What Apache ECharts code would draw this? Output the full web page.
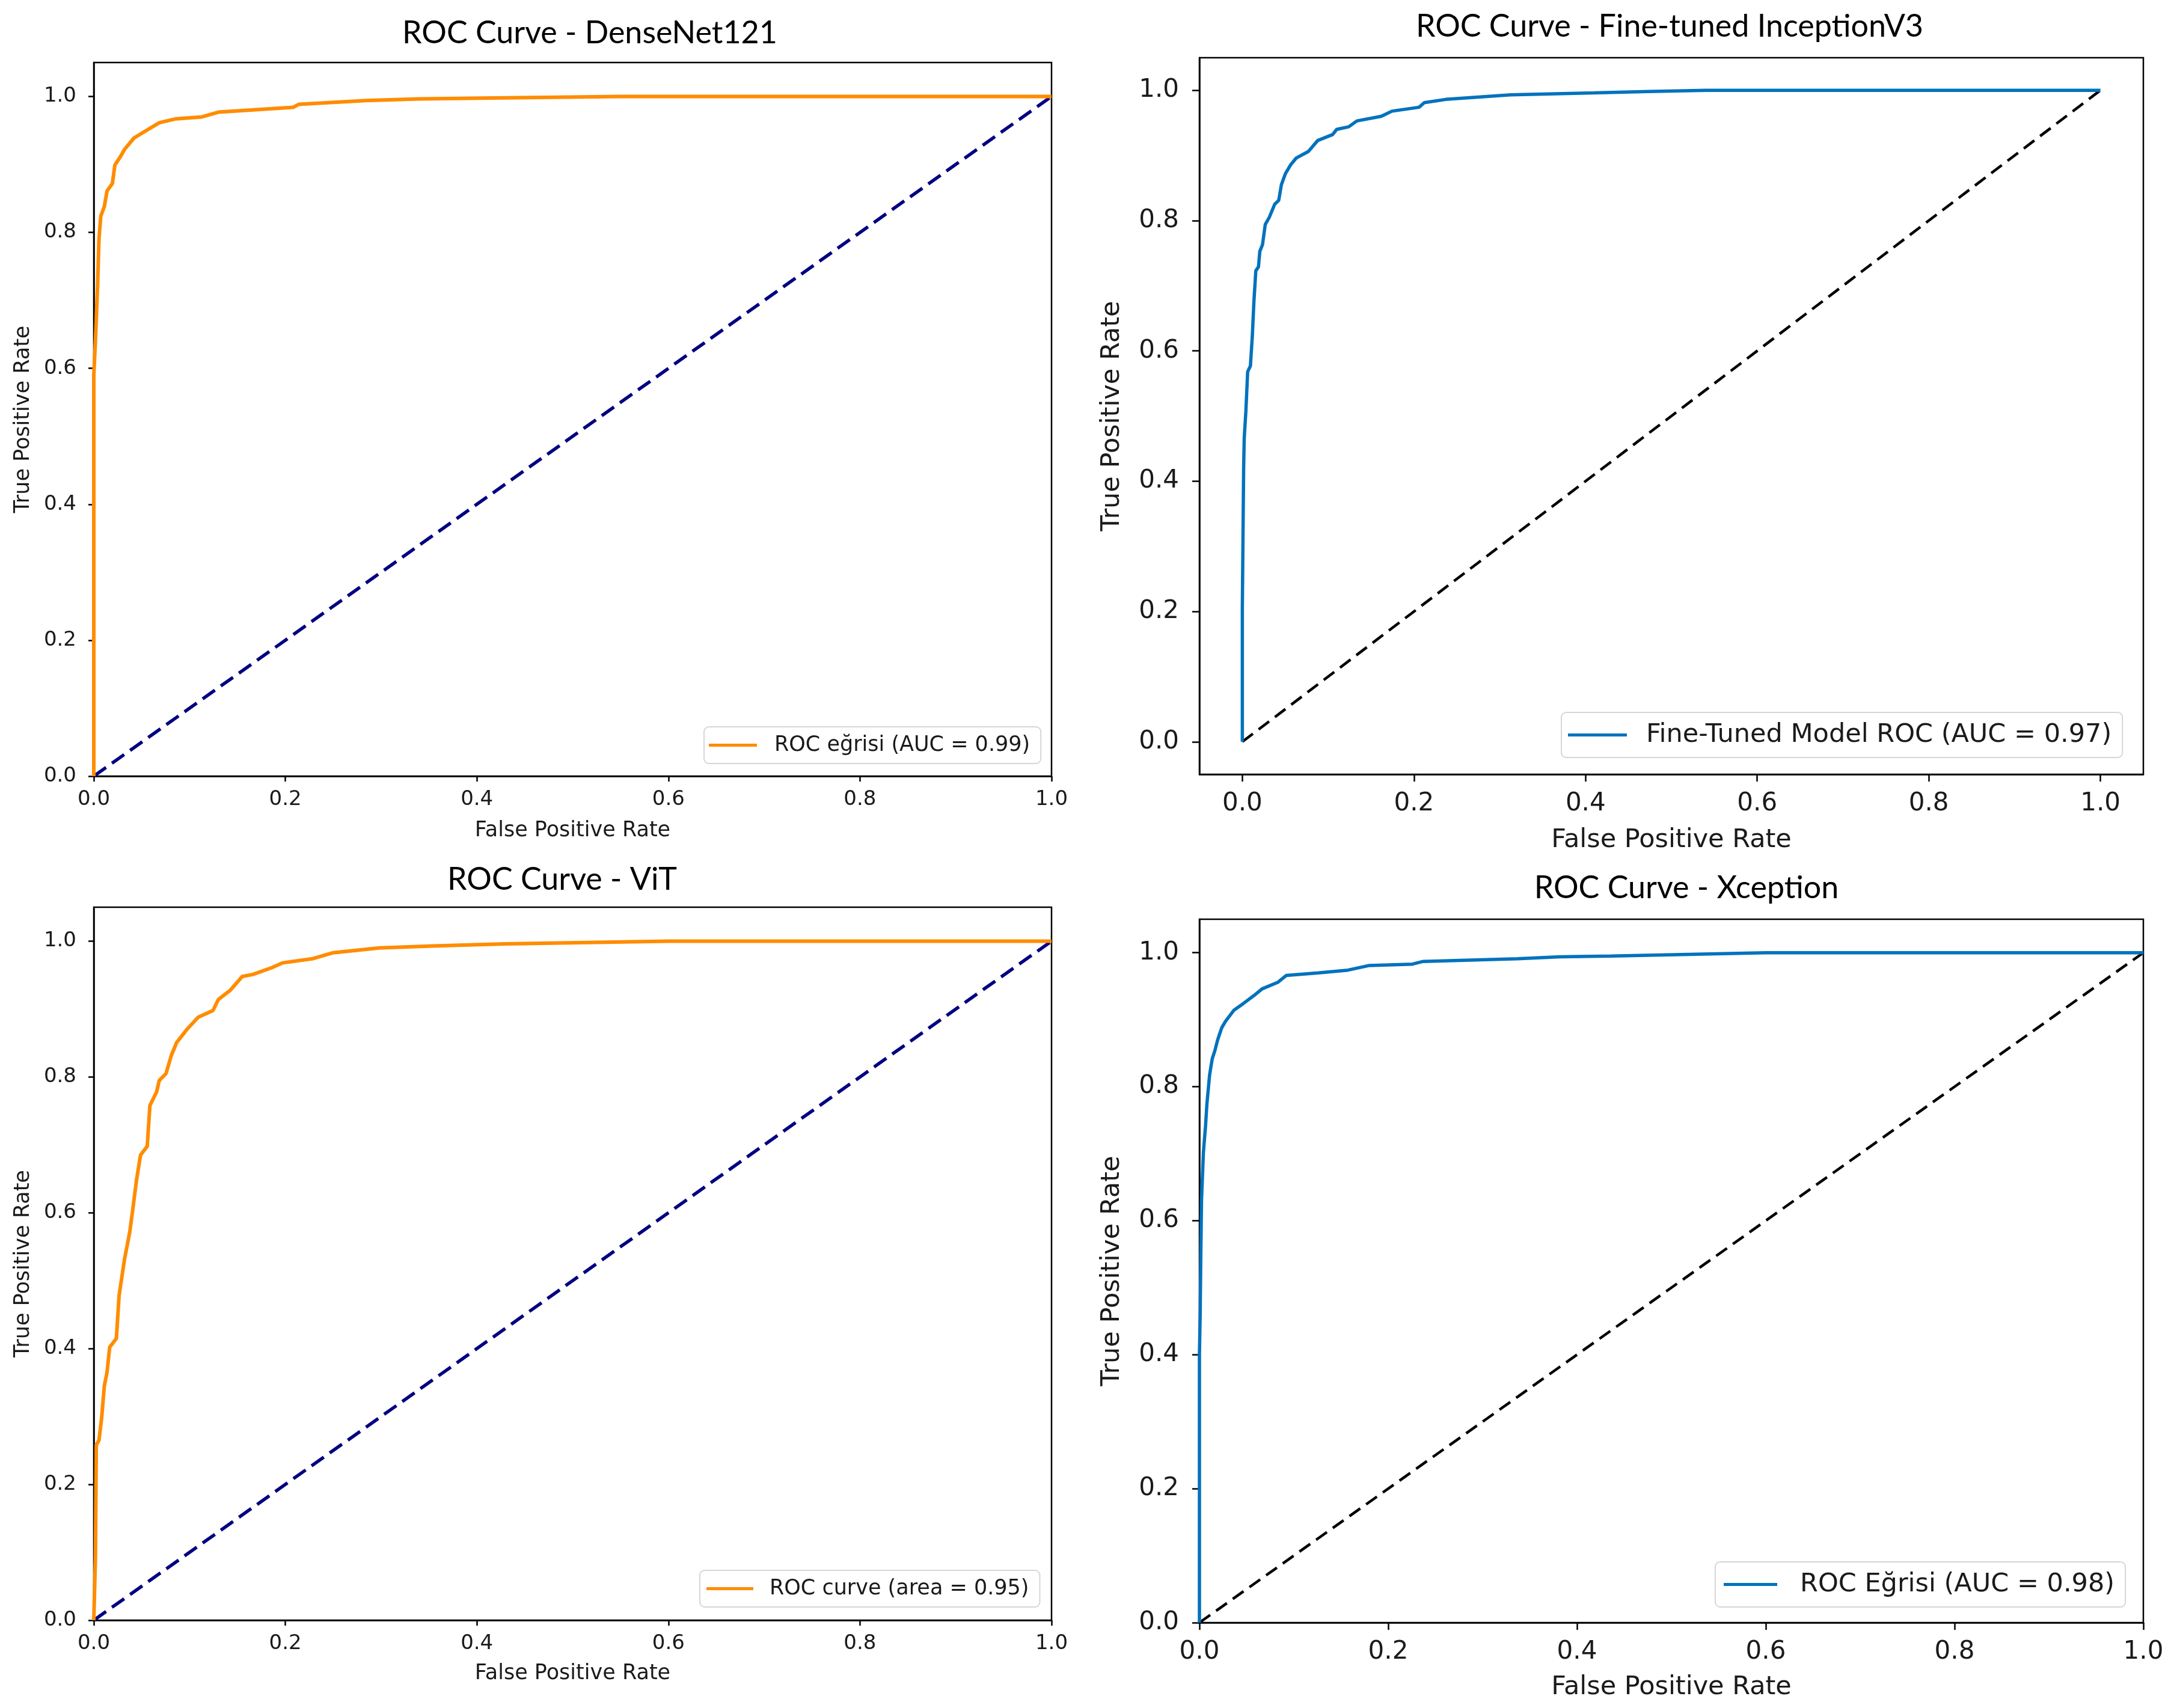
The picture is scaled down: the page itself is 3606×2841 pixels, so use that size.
<!DOCTYPE html>
<html>
<head>
<meta charset="utf-8">
<script src="https://cdn.jsdelivr.net/npm/echarts@6/dist/echarts.min.js"></script>
<style>
html,body{margin:0;padding:0;background:#fff;}
#chart{width:3606px;height:2841px;}
</style>
</head>
<body>
<div id="chart"></div>
<script>
// ---------- data ----------
const panelTitles = ['ROC Curve - DenseNet121', 'ROC Curve - Fine-tuned InceptionV3', 'ROC Curve - ViT', 'ROC Curve - Xception'];
const legendNames = ['ROC eğrisi (AUC = 0.99)', 'Fine-Tuned Model ROC (AUC = 0.97)', 'ROC curve (area = 0.95)', 'ROC Eğrisi (AUC = 0.98)'];
const xAxisName = 'False Positive Rate';
const yAxisName = 'True Positive Rate';
const tickValues = [0, 0.2, 0.4, 0.6, 0.8, 1.0];

const densenetFpr = [0, 0, 0.0017, 0.004, 0.0054, 0.0073, 0.011, 0.0138, 0.0194, 0.022, 0.028, 0.032, 0.042, 0.0544, 0.0684, 0.085, 0.113, 0.130, 0.208, 0.214, 0.284, 0.340, 0.429, 0.55, 1.0];
const densenetTpr = [0, 0.59, 0.64, 0.723, 0.79, 0.824, 0.838, 0.861, 0.872, 0.899, 0.912, 0.922, 0.939, 0.9496, 0.9614, 0.967, 0.970, 0.977, 0.984, 0.9885, 0.994, 0.9965, 0.998, 1.0, 1.0];

const inceptionFpr = [0, 0, 0.0015, 0.0022, 0.0041, 0.0062, 0.0094, 0.0116, 0.0135, 0.0157, 0.0188, 0.0204, 0.0235, 0.0267, 0.0314, 0.0377, 0.0424, 0.0455, 0.0502, 0.0565, 0.0628, 0.0769, 0.0879, 0.1052, 0.1099, 0.124, 0.1335, 0.1618, 0.1744, 0.206, 0.212, 0.237, 0.3125, 0.4095, 0.472, 0.54, 1.0];
const inceptionTpr = [0, 0.206, 0.419, 0.466, 0.507, 0.568, 0.577, 0.622, 0.676, 0.723, 0.729, 0.753, 0.763, 0.794, 0.805, 0.825, 0.831, 0.855, 0.872, 0.886, 0.896, 0.906, 0.923, 0.932, 0.940, 0.944, 0.953, 0.960, 0.968, 0.974, 0.981, 0.986, 0.993, 0.996, 0.998, 1.0, 1.0];

const vitFpr = [0, 0.0017, 0.0026, 0.0054, 0.0082, 0.011, 0.0138, 0.0166, 0.0236, 0.0264, 0.032, 0.0376, 0.0404, 0.0446, 0.0488, 0.0558, 0.0586, 0.0656, 0.0684, 0.0754, 0.081, 0.0866, 0.0978, 0.109, 0.1245, 0.130, 0.1427, 0.155, 0.166, 0.186, 0.197, 0.228, 0.250, 0.298, 0.354, 0.429, 0.60, 1.0];
const vitTpr = [0, 0.092, 0.258, 0.265, 0.298, 0.345, 0.365, 0.402, 0.415, 0.478, 0.531, 0.572, 0.602, 0.648, 0.685, 0.698, 0.758, 0.778, 0.795, 0.805, 0.832, 0.851, 0.871, 0.888, 0.898, 0.914, 0.928, 0.948, 0.951, 0.961, 0.968, 0.974, 0.983, 0.990, 0.993, 0.996, 1.0, 1.0];

const xceptionFpr = [0, 0, 0.0008, 0.0014, 0.0022, 0.0042, 0.0065, 0.0079, 0.0108, 0.0136, 0.0164, 0.0193, 0.0236, 0.0278, 0.0364, 0.0463, 0.0577, 0.0663, 0.0833, 0.0919, 0.126, 0.1573, 0.18, 0.2257, 0.237, 0.3366, 0.382, 0.4355, 0.60, 1.0];
const xceptionTpr = [0, 0.40, 0.461, 0.541, 0.63, 0.702, 0.742, 0.774, 0.818, 0.842, 0.854, 0.870, 0.888, 0.898, 0.914, 0.924, 0.936, 0.946, 0.956, 0.966, 0.970, 0.974, 0.981, 0.983, 0.987, 0.991, 0.994, 0.995, 1.0, 1.0];

const chanceFpr = [0, 1];
const chanceTpr = [0, 1];

// ---------- layout / style ----------
const zip = (a, b) => a.map((v, i) => [v, b[i]]);
const curves = [zip(densenetFpr, densenetTpr), zip(inceptionFpr, inceptionTpr), zip(vitFpr, vitTpr), zip(xceptionFpr, xceptionTpr)];
const diag = zip(chanceFpr, chanceTpr);

const grids = [
  {left: 156, top: 104, width: 1593, height: 1187},
  {left: 1995, top: 96, width: 1570, height: 1192},
  {left: 156, top: 1509, width: 1593, height: 1186},
  {left: 1995, top: 1529, width: 1570, height: 1170}
];
const P = [
  {xr: [0, 1], yr: [0, 1.05], curveColor: '#ff8c00', diagColor: '#000080', dash: [25, 12], lw: 6, dlw: 5.5,
   tick: 34, name: 35, leg: 35, tickLen: 9, xm: 22, ym: 29, xng: 73, yng: 100,
   title: {x: 981, y: 58}, legend: {left: 1171, top: 1209, pad: [13, 18, 13, 8], iw: 80, tp: 24}},
  {xr: [-0.05, 1.05], yr: [-0.05, 1.05], curveColor: '#0072bd', diagColor: '#000000', dash: [22, 12], lw: 5.5, dlw: 4.5,
   tick: 42, name: 43, leg: 43, tickLen: 12, xm: 28, ym: 34, xng: 88, yng: 124,
   title: {x: 2777, y: 47}, legend: {left: 2597, top: 1185, pad: [16, 18, 16, 11], iw: 98, tp: 27}},
  {xr: [0, 1], yr: [0, 1.05], curveColor: '#ff8c00', diagColor: '#000080', dash: [25, 12], lw: 6, dlw: 5.5,
   tick: 34, name: 35, leg: 35, tickLen: 9, xm: 22, ym: 29, xng: 71, yng: 100,
   title: {x: 935, y: 1466}, legend: {left: 1164, top: 2612, pad: [13, 18, 13, 11], iw: 78, tp: 22}},
  {xr: [0, 1], yr: [0, 1.05], curveColor: '#0072bd', diagColor: '#000000', dash: [22, 12], lw: 5.5, dlw: 4.5,
   tick: 42, name: 43, leg: 43, tickLen: 12, xm: 28, ym: 34, xng: 86, yng: 124,
   title: {x: 2805, y: 1480}, legend: {left: 2853, top: 2598, pad: [16, 18, 16, 14], iw: 89, tp: 33}}
];

const labelFont = "'DejaVu Sans', sans-serif";
const titleFont = "Lato, 'Liberation Sans', sans-serif";
const fmt = v => v.toFixed(1);

const option = {
  animation: false,
  backgroundColor: '#ffffff',
  title: panelTitles.map((t, i) => ({
    text: t,
    left: P[i].title.x,
    top: P[i].title.y - 29,
    textAlign: 'center',
    padding: 0,
    textStyle: {fontFamily: titleFont, fontSize: 52, fontWeight: 'normal', color: '#000'}
  })),
  legend: legendNames.map((n, i) => ({
    data: [{name: n, icon: 'rect'}],
    left: P[i].legend.left,
    top: P[i].legend.top,
    orient: 'vertical',
    padding: P[i].legend.pad,
    itemWidth: P[i].legend.iw,
    itemHeight: 5,
    backgroundColor: 'rgba(255,255,255,0.8)',
    borderColor: '#d6d6d6',
    borderWidth: 2,
    borderRadius: 8,
    selectedMode: false,
    textStyle: {fontFamily: labelFont, fontSize: P[i].leg, color: '#1a1a1a', padding: [0, 0, 0, P[i].legend.tp]}
  })),
  grid: grids.map(g => Object.assign({show: true, borderColor: '#000', borderWidth: 2.5, backgroundColor: 'transparent', containLabel: false}, g)),
  xAxis: P.map((p, i) => ({
    type: 'value', gridIndex: i, min: p.xr[0], max: p.xr[1],
    name: xAxisName, nameLocation: 'middle', nameGap: p.xng,
    nameTextStyle: {fontFamily: labelFont, fontSize: p.name, color: '#1a1a1a'},
    axisLine: {show: true, onZero: false, lineStyle: {color: '#000', width: 2.5}},
    axisTick: {show: true, length: p.tickLen, lineStyle: {color: '#000', width: 2.5}, customValues: tickValues},
    axisLabel: {fontFamily: labelFont, fontSize: p.tick, color: '#1a1a1a', margin: p.xm, customValues: tickValues, formatter: fmt, hideOverlap: false},
    splitLine: {show: false}
  })),
  yAxis: P.map((p, i) => ({
    type: 'value', gridIndex: i, min: p.yr[0], max: p.yr[1],
    name: yAxisName, nameLocation: 'middle', nameGap: p.yng,
    nameTextStyle: {fontFamily: labelFont, fontSize: p.name, color: '#1a1a1a'},
    axisLine: {show: true, onZero: false, lineStyle: {color: '#000', width: 2.5}},
    axisTick: {show: true, length: p.tickLen, lineStyle: {color: '#000', width: 2.5}, customValues: tickValues},
    axisLabel: {fontFamily: labelFont, fontSize: p.tick, color: '#1a1a1a', margin: p.ym, customValues: tickValues, formatter: fmt, hideOverlap: false},
    splitLine: {show: false}
  })),
  series: []
};

P.forEach((p, i) => {
  option.series.push({
    type: 'line', name: legendNames[i], xAxisIndex: i, yAxisIndex: i,
    data: curves[i], showSymbol: false, symbol: 'none', clip: true,
    lineStyle: {color: p.curveColor, width: p.lw}, itemStyle: {color: p.curveColor}, z: 3
  });
  option.series.push({
    type: 'line', name: 'chance-' + i, xAxisIndex: i, yAxisIndex: i,
    data: diag, showSymbol: false, symbol: 'none', silent: true,
    lineStyle: {color: p.diagColor, width: p.dlw, type: p.dash}, itemStyle: {color: p.diagColor}, z: 2
  });
});

const chart = echarts.init(document.getElementById('chart'), null, {renderer: 'canvas'});
chart.setOption(option);
</script>
</body>
</html>
